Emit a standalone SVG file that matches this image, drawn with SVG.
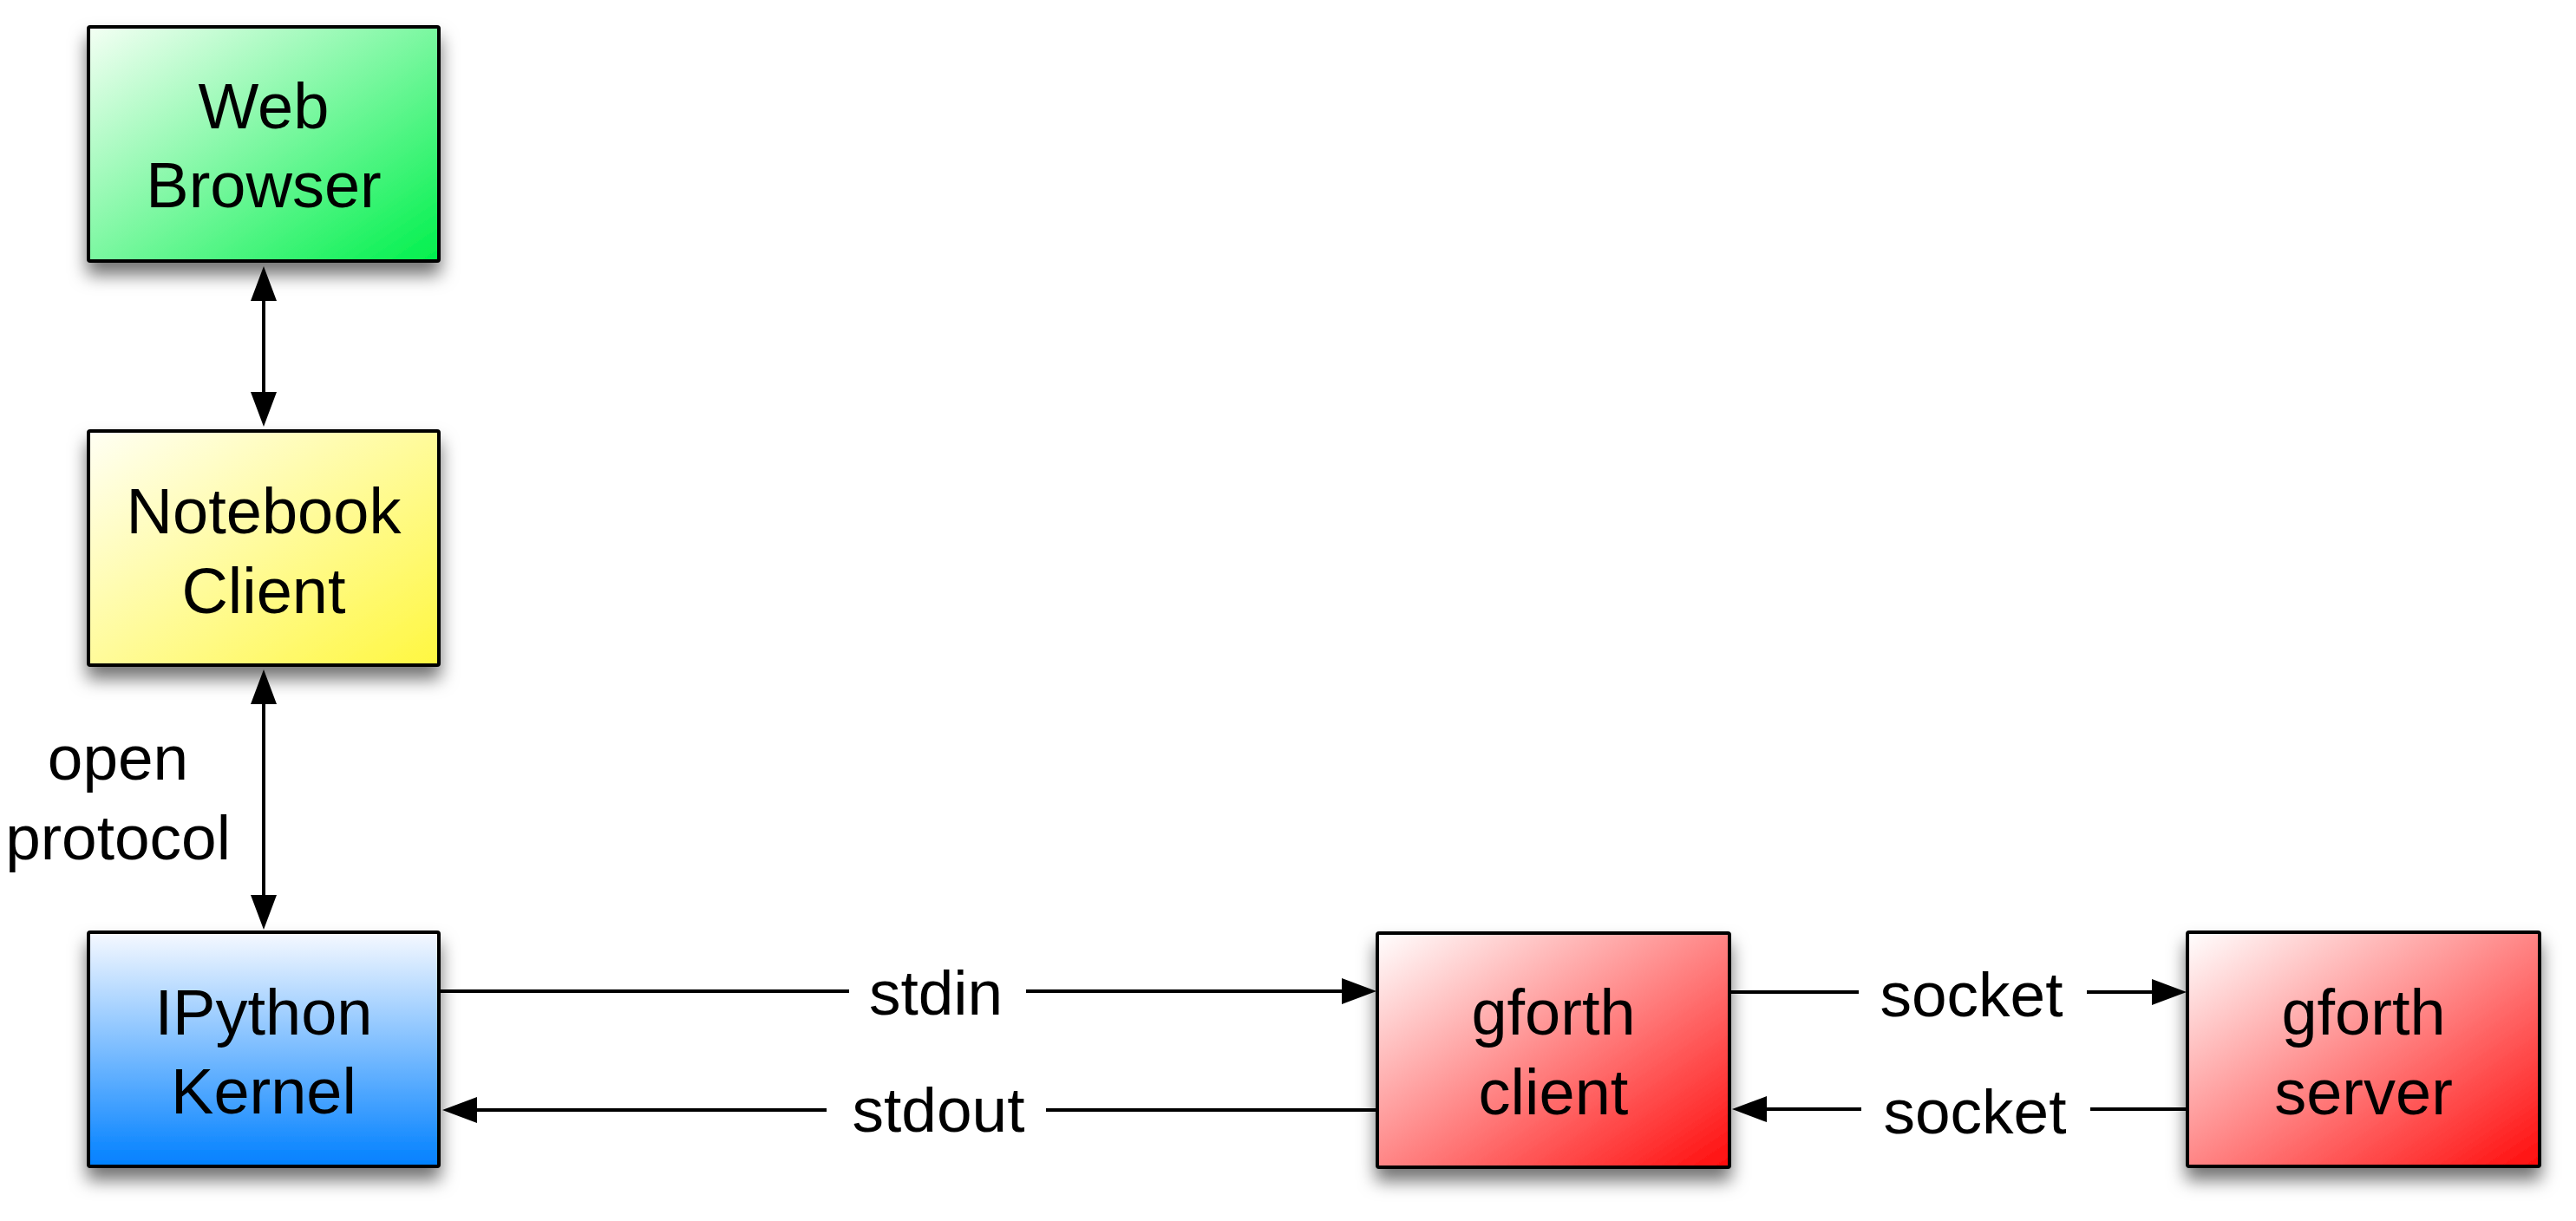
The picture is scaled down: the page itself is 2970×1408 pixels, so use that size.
<svg xmlns="http://www.w3.org/2000/svg" width="2970" height="1408" viewBox="0 0 2970 1408">
<defs>
<linearGradient id="gGreen" x1="0" y1="0" x2="1" y2="1"><stop offset="0" stop-color="#f4fff4"/><stop offset="1" stop-color="#00f04c"/></linearGradient>
<linearGradient id="gYellow" x1="0" y1="0" x2="1" y2="1"><stop offset="0" stop-color="#fffff4"/><stop offset="1" stop-color="#fff740"/></linearGradient>
<linearGradient id="gBlue" x1="0" y1="0" x2="0" y2="1"><stop offset="0" stop-color="#f6f9ff"/><stop offset="1" stop-color="#0080ff"/></linearGradient>
<linearGradient id="gRed" x1="0" y1="0" x2="1" y2="1"><stop offset="0" stop-color="#ffffff"/><stop offset="1" stop-color="#ff0c0c"/></linearGradient>
<filter id="shadow" x="-20%" y="-20%" width="140%" height="150%"><feDropShadow dx="0" dy="14" stdDeviation="10" flood-color="#000" flood-opacity="0.55"/></filter>
<marker id="arrow" viewBox="0 0 40 30" markerWidth="40" markerHeight="30" refX="0" refY="15" markerUnits="userSpaceOnUse" orient="auto-start-reverse"><path d="M0,0 L40,15 L0,30 z" fill="#000"/></marker>
</defs>
<style>
.box{stroke:#000;stroke-width:4;filter:url(#shadow)}
.nt{font-family:"Liberation Sans",Arial,sans-serif;font-size:74px;fill:#000;text-anchor:middle}
.lb{font-family:"Liberation Sans",Arial,sans-serif;font-size:73px;fill:#000;text-anchor:middle}
.ln{stroke:#000;stroke-width:4;fill:none}
</style>
<rect width="2970" height="1408" fill="#fff"/>
<g id="connectors">
<line class="ln" x1="304" y1="347" x2="304" y2="452" marker-start="url(#arrow)" marker-end="url(#arrow)"/>
<line class="ln" x1="304" y1="812" x2="304" y2="1032" marker-start="url(#arrow)" marker-end="url(#arrow)"/>
<text class="lb" x="136" y="899">open</text>
<text class="lb" x="136" y="991">protocol</text>
<line class="ln" x1="506" y1="1143" x2="979" y2="1143"/>
<line class="ln" x1="1183" y1="1143" x2="1547" y2="1143" marker-end="url(#arrow)"/>
<text class="lb" x="1079" y="1170">stdin</text>
<line class="ln" x1="1587" y1="1280" x2="1206" y2="1280"/>
<line class="ln" x1="953" y1="1280" x2="550" y2="1280" marker-end="url(#arrow)"/>
<text class="lb" x="1082" y="1305">stdout</text>
<line class="ln" x1="1994" y1="1144" x2="2143" y2="1144"/>
<line class="ln" x1="2406" y1="1144" x2="2481" y2="1144" marker-end="url(#arrow)"/>
<text class="lb" x="2273" y="1172">socket</text>
<line class="ln" x1="2522" y1="1279" x2="2410" y2="1279"/>
<line class="ln" x1="2146" y1="1279" x2="2037" y2="1279" marker-end="url(#arrow)"/>
<text class="lb" x="2277" y="1307">socket</text>
</g>
<g id="web-browser">
<rect class="box" x="102" y="31" width="404" height="270" rx="2" fill="url(#gGreen)"/>
<text class="nt" x="304" y="148">Web</text>
<text class="nt" x="304" y="239">Browser</text>
</g>
<g id="notebook-client">
<rect class="box" x="102" y="497" width="404" height="270" rx="2" fill="url(#gYellow)"/>
<text class="nt" x="304" y="615">Notebook</text>
<text class="nt" x="304" y="707">Client</text>
</g>
<g id="ipython-kernel">
<rect class="box" x="102" y="1075" width="404" height="270" rx="2" fill="url(#gBlue)"/>
<text class="nt" x="304" y="1193">IPython</text>
<text class="nt" x="304" y="1284">Kernel</text>
</g>
<g id="gforth-client">
<rect class="box" x="1588" y="1076" width="406" height="270" rx="2" fill="url(#gRed)"/>
<text class="nt" x="1791" y="1193">gforth</text>
<text class="nt" x="1791" y="1285">client</text>
</g>
<g id="gforth-server">
<rect class="box" x="2522" y="1075" width="406" height="270" rx="2" fill="url(#gRed)"/>
<text class="nt" x="2725" y="1193">gforth</text>
<text class="nt" x="2725" y="1285">server</text>
</g>
</svg>
